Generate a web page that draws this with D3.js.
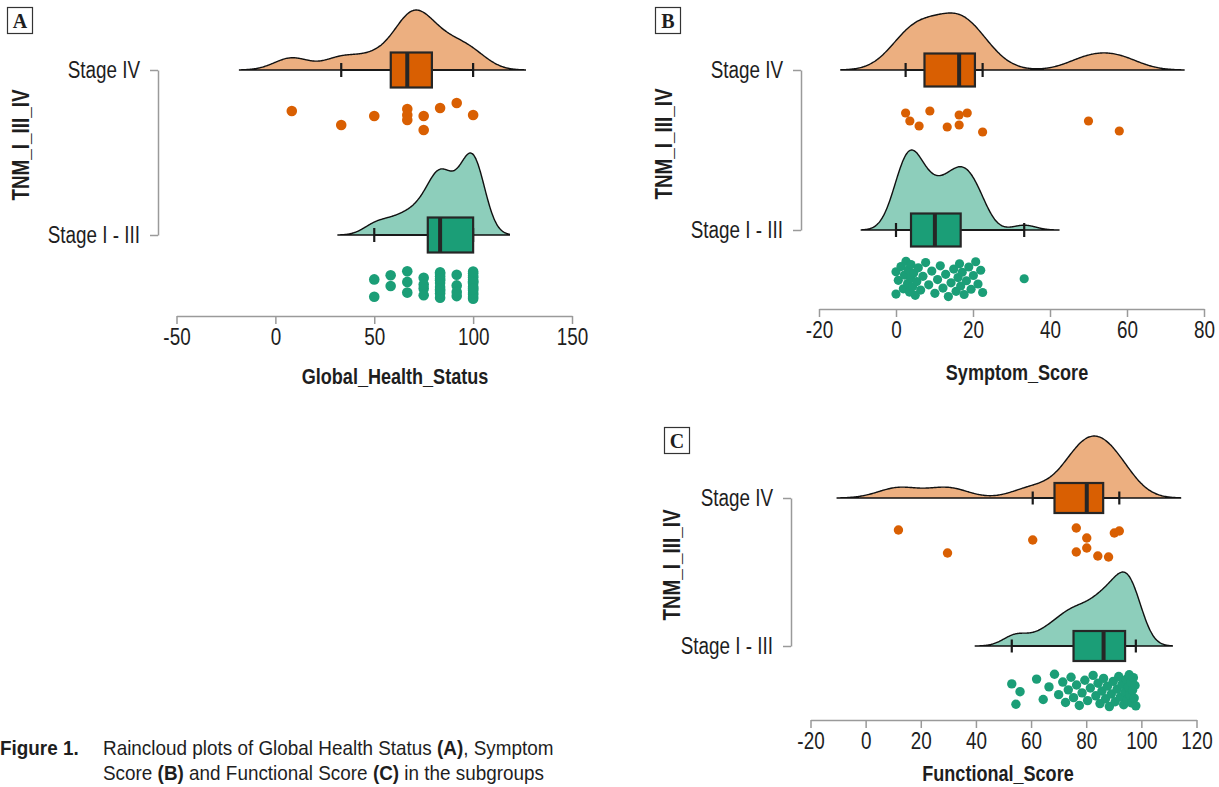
<!DOCTYPE html>
<html lang="en">
<head>
<meta charset="UTF-8">
<title>Raincloud plots</title>
<script src="https://cdnjs.cloudflare.com/ajax/libs/d3/7.8.5/d3.min.js"></script>
<style>
    body { margin: 0; background: #fff; }
    text { font-family: "Liberation Sans", Arial, sans-serif; fill: #1e1e1e; }
</style>
</head>
<body>
<div id="myDiv"><svg width="1219" height="787"></svg></div>

<script>

    // groups on the y axis
    const groups = ["Stage IV", "Stage I - III"];

    // tick labels of the three x axes
    const ticksGlobal = [-50, 0, 50, 100, 150];
    const ticksSymptom = [-20, 0, 20, 40, 60, 80];
    const ticksFunctional = [-20, 0, 20, 40, 60, 80, 100, 120];

    // Global_Health_Status
    const globalStage4 = [8.3, 33.3, 50, 66.7, 66.7, 66.7, 75, 75, 83.3, 91.7, 100];
    const globalStage13 = [50, 50, 58.3, 58.3, 66.7, 66.7, 66.7, 75, 75, 75, 75,
        83.3, 83.3, 83.3, 83.3, 83.3, 83.3, 83.3, 83.3, 83.3, 83.3, 83.3,
        91.7, 91.7, 91.7, 91.7,
        100, 100, 100, 100, 100, 100, 100, 100, 100, 100, 100, 100, 100, 100, 100, 100];

    // Symptom_Score
    const symptomStage4 = [2.5, 3.6, 6.0, 8.8, 13.3, 16.4, 16.4, 18.5, 22.5, 50.0, 58.0];
    const symptomStage13 = [0, 0, 0.6, 1.3, 1.9, 2.2, 2.6, 3.0, 3.2, 3.5, 3.8, 3.9,
        4.3, 4.6, 5.0, 5.4, 5.8, 6.4, 7.0, 7.7, 8.5, 9.3, 10.1,
        10.8, 11.5, 12.2, 12.9, 13.6, 14.3, 15.0, 15.6, 16.1, 16.5, 16.8,
        17.2, 17.7, 18.3, 18.9, 19.5, 20.1, 20.7, 21.3, 22.0, 22.5, 33.3];

    // Functional_Score
    const functionalStage4 = [11.9, 29.7, 60.6, 76.4, 76.4, 80.2, 80.2, 84.2, 88.1, 90.2, 92.0];
    const functionalStage13 = [53.0, 54.5, 56.0, 62.0, 64.4, 66.5, 68.5, 70.0, 71.5, 72.5, 73.5, 74.5,
        75.4, 76.5, 77.5, 78.5, 79.5, 80.5, 81.5, 82.5, 83.5, 84.3, 85.0, 85.7,
        86.3, 87.0, 87.7, 88.4, 89.1, 89.8, 90.5, 91.2, 91.8, 92.4, 93.0, 93.6,
        94.1, 94.5, 94.9, 95.3, 95.6, 95.9, 96.2, 96.5, 96.8, 97.1, 97.4, 97.7, 98.0];

    const colors = {"Stage IV": "#d95f02", "Stage I - III": "#1b9e77"};

    // caption pieces: [text, bold]
    const captionLine1 = [["Raincloud plots of Global Health Status ", false], ["(A)", true], [", Symptom", false]];
    const captionLine2 = [["Score ", false], ["(B)", true], [" and Functional Score ", false], ["(C)", true], [" in the subgroups", false]];

    // panel layout (pixels), one object per panel
    const panels = [
        {letter: "A", title: "Global_Health_Status", ticks: ticksGlobal,
         data: [globalStage4, globalStage13],
         bw: [8.8, 6.1], peak: [60, 82], boxH: 35, capH: 14, r: 5.3,
         xRange: [176.5, 572], axisY: 316, yRange: [70, 235], yAxisX: 158,
         titleX: 395, titleY: 376, yTitleX: 21, yTitleY: 145, letterX: 7, letterY: 7,
         jitter4: [41, 55, 46, 39, 45, 50, 46, 60, 38, 33, 45], rainBand: [36, 64]},
        {letter: "B", title: "Symptom_Score", ticks: ticksSymptom,
         data: [symptomStage4, symptomStage13],
         bw: [5.6, 3.0], peak: [57, 80], boxH: 33, capH: 14, r: 4.6,
         xRange: [819, 1204], axisY: 309, yRange: [70, 230], yAxisX: 801,
         titleX: 1017, titleY: 372, yTitleX: 664, yTitleY: 144, letterX: 655, letterY: 7,
         jitter4: [43, 51, 56, 41, 57, 45, 55, 43, 62, 51, 61], rainBand: [31, 67]},
        {letter: "C", title: "Functional_Score", ticks: ticksFunctional,
         data: [functionalStage4, functionalStage13],
         bw: [7.4, 4.4], peak: [62, 74], boxH: 30, capH: 13, r: 4.7,
         xRange: [810.5, 1196.5], axisY: 720, yRange: [498, 646], yAxisX: 791,
         titleX: 998, titleY: 773, yTitleX: 672, yTitleY: 565, letterX: 664, letterY: 427,
         jitter4: [32, 55, 42, 30, 54, 40, 50, 58, 59, 35, 33], rainBand: [28, 61]}
    ];

    const svg = d3.select("#myDiv").select("svg");
    svg.append("rect").attr("width", 1219).attr("height", 787).attr("fill", "#fff");

    // gaussian kernel density, extended 3 bandwidths past the data
    function kde(values, bw, n) {
        const lo = d3.min(values) - 3 * bw;
        const hi = d3.max(values) + 3 * bw;
        return d3.range(n + 1).map(function(i) {
            const x = lo + (hi - lo) * i / n;
            const d = d3.mean(values, v => Math.exp(-0.5 * ((x - v) / bw) ** 2)) / (bw * Math.sqrt(2 * Math.PI));
            return [x, d];
        });
    }

    function boxStats(values) {
        const s = values.slice().sort(d3.ascending);
        const q1 = d3.quantile(s, 0.25), med = d3.quantile(s, 0.5), q3 = d3.quantile(s, 0.75);
        const iqr = q3 - q1;
        const lo = d3.min(s.filter(v => v >= q1 - 1.5 * iqr));
        const hi = d3.max(s.filter(v => v <= q3 + 1.5 * iqr));
        return {q1: q1, med: med, q3: q3, lo: lo, hi: hi};
    }

    // squeeze text horizontally (no narrow font installed)
    function narrow(sel, k) {
        sel.each(function() {
            const len = this.getComputedTextLength();
            d3.select(this).attr("textLength", len * k).attr("lengthAdjust", "spacingAndGlyphs");
        });
    }

    panels.forEach(function(p) {
        const x = d3.scaleLinear().domain(d3.extent(p.ticks)).range(p.xRange);
        const y = d3.scalePoint().domain(groups).range(p.yRange);

        // x axis
        const gx = svg.append("g")
            .attr("transform", "translate(0," + p.axisY + ")")
            .call(d3.axisBottom(x).tickValues(p.ticks).tickSize(8).tickSizeOuter(0)
                .tickPadding(5).tickFormat(d => String(d)))
            .attr("font-size", 23);
        gx.select(".domain").attr("stroke", "#9a9a9a").attr("stroke-width", 1.5);
        gx.selectAll(".tick line").attr("stroke", "#9a9a9a").attr("stroke-width", 1.5);

        // y axis
        const gy = svg.append("g")
            .attr("transform", "translate(" + p.yAxisX + ",0)")
            .call(d3.axisLeft(y).tickSize(8).tickSizeOuter(0).tickPadding(10))
            .attr("font-size", 23);
        gy.select(".domain").attr("stroke", "#9a9a9a").attr("stroke-width", 1.5);
        gy.selectAll(".tick line").attr("stroke", "#9a9a9a").attr("stroke-width", 1.5);

        // axis titles
        svg.append("text")
            .attr("x", p.titleX).attr("y", p.titleY)
            .attr("dy", "0.35em")
            .attr("text-anchor", "middle")
            .attr("font-size", 22).attr("font-weight", "bold")
            .text(p.title);
        svg.append("text")
            .attr("transform", "translate(" + p.yTitleX + "," + p.yTitleY + ") rotate(-90)")
            .attr("dy", "0.35em")
            .attr("text-anchor", "middle")
            .attr("font-size", 23).attr("font-weight", "bold")
            .text("TNM_I_III_IV");

        groups.forEach(function(g, i) {
            const vals = p.data[i];
            const base = y(g);
            const col = colors[g];

            // cloud
            const dens = kde(vals, p.bw[i], 300);
            const h = d3.scaleLinear().domain([0, d3.max(dens, d => d[1])]).range([0, p.peak[i]]);
            const area = d3.area()
                .x(d => x(d[0]))
                .y0(base)
                .y1(d => base - h(d[1]))
                .curve(d3.curveBasis);
            svg.append("path")
                .datum(dens)
                .attr("d", area)
                .attr("fill", col)
                .attr("fill-opacity", 0.5)
                .attr("stroke", "#111")
                .attr("stroke-width", 1.4);

            // box and whiskers
            const st = boxStats(vals);
            svg.append("line")
                .attr("x1", x(st.lo)).attr("x2", x(st.hi))
                .attr("y1", base).attr("y2", base)
                .attr("stroke", "#1a1a1a").attr("stroke-width", 2);
            [st.lo, st.hi].forEach(function(v) {
                svg.append("line")
                    .attr("x1", x(v)).attr("x2", x(v))
                    .attr("y1", base - p.capH / 2).attr("y2", base + p.capH / 2)
                    .attr("stroke", "#1a1a1a").attr("stroke-width", 2.2);
            });
            svg.append("rect")
                .attr("x", x(st.q1)).attr("y", base - p.boxH / 2)
                .attr("width", x(st.q3) - x(st.q1)).attr("height", p.boxH)
                .attr("fill", col)
                .attr("stroke", "#262626").attr("stroke-width", 2.2);
            svg.append("line")
                .attr("x1", x(st.med)).attr("x2", x(st.med))
                .attr("y1", base - p.boxH / 2).attr("y2", base + p.boxH / 2)
                .attr("stroke", "#262626").attr("stroke-width", 4);

            // rain
            svg.append("g")
                .selectAll("circle")
                .data(vals)
                .enter()
                .append("circle")
                .attr("cx", d => x(d))
                .attr("cy", function(d, j) {
                    if (i === 0) return base + p.jitter4[j];
                    const f = (j * 0.6180339887 + 0.3) % 1;
                    return base + p.rainBand[0] + (p.rainBand[1] - p.rainBand[0]) * f;
                })
                .attr("r", p.r)
                .attr("fill", col);
        });

        // panel letter
        svg.append("rect")
            .attr("x", p.letterX + 0.5).attr("y", p.letterY + 0.5)
            .attr("width", 25).attr("height", 26)
            .attr("fill", "#fff").attr("stroke", "#333").attr("stroke-width", 1.2);
        svg.append("text")
            .attr("class", "letter")
            .attr("x", p.letterX + 13).attr("y", p.letterY + 20.5)
            .attr("text-anchor", "middle")
            .style("font-family", "'Liberation Serif', 'Times New Roman', serif")
            .attr("font-size", 20).attr("font-weight", "bold")
            .text(p.letter);
    });

    narrow(svg.selectAll("text").filter(function() {
        return !this.classList.contains("letter");
    }), 0.82);

    // figure caption: each line is one text, squeezed through a scaled group
    function captionRow(pieces, x, y) {
        const t = svg.append("g")
            .attr("transform", "translate(" + x + "," + y + ") scale(0.9,1)")
            .append("text")
            .attr("font-size", 21)
            .style("white-space", "pre");
        pieces.forEach(function(pc) {
            t.append("tspan")
                .attr("font-weight", pc[1] ? "bold" : "normal")
                .text(pc[0]);
        });
    }
    captionRow([["Figure 1.", true]], 0, 755);
    captionRow(captionLine1, 103, 755);
    captionRow(captionLine2, 103, 780);

</script>

</body>
</html>
